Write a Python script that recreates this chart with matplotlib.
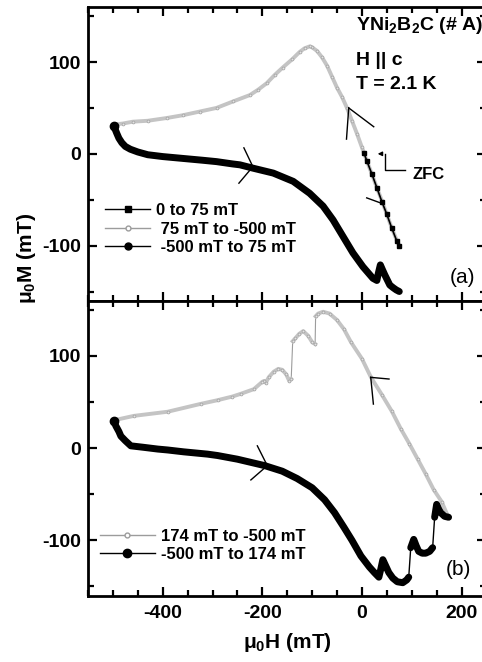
import numpy as np
import matplotlib
matplotlib.use("Agg")
import matplotlib.pyplot as plt
from matplotlib.lines import Line2D
from matplotlib.ticker import MultipleLocator

plt.rcParams['font.family'] = ['Liberation Sans', 'DejaVu Sans']
plt.rcParams['font.weight'] = 'bold'
plt.rcParams['axes.unicode_minus'] = False
plt.rcParams['mathtext.fontset'] = 'custom'
plt.rcParams['mathtext.bf'] = 'Liberation Sans:bold'
plt.rcParams['mathtext.rm'] = 'Liberation Sans:bold'
plt.rcParams['mathtext.default'] = 'bf'

# ---- panel (a) ----
zfc_H = [4, 10, 20, 30, 40, 50, 60, 70, 75]
zfc_M = [1, -8, -22, -37, -52, -66, -81, -95, -100]

down_a_H = [75, 72, 60, 50, 40, 30, 20, 10, 0, -10, -20, -30, -40, -50, -60, -70, -80,
            -90, -100, -105, -115, -125, -140, -159, -175, -191, -208, -225, -259,
            -292, -326, -360, -392, -430, -460, -480, -496, -500]
down_a_M = [-100, -97, -81, -66, -51, -37, -22, -8, 7, 22, 36, 50, 62, 72, 84, 96, 105,
            112, 116, 117, 115, 111, 103, 94, 86, 77, 70, 64, 57,
            50, 46, 42, 39, 36, 35, 33, 32, 30]

up_a_H = [-498, -495, -492, -488, -482, -475, -465, -450, -430, -400, -360, -320, -292,
          -260, -245, -219, -178, -138, -105, -78, -58, -38, -18, 2, 22, 30, 33, 37,
          41, 46, 56, 63, 69, 75]
up_a_M = [30, 26, 22, 17, 12, 8, 5, 2, -1, -3, -5, -7, -8.5,
          -11, -12, -15.6, -21, -30, -43, -57, -72, -90, -108, -123, -135.6, -138, -130, -121,
          -126, -132, -143, -146, -148.3, -150]

# ---- panel (b) ----
down_b_H = [172, 160, 144, 128, 112, 95, 78, 60, 40, 18, 0, -22, -36, -50, -65, -78,
            -88, -93, -94, -100, -108, -118, -126, -134, -139, -142, -146, -152, -160,
            -168, -177, -187, -193, -196, -200, -217, -243, -260, -290, -324, -390,
            -458, -500]
down_b_M = [-73, -58, -45, -28, -12, 5, 21, 40, 58, 77, 97, 115, 129, 139, 146, 148,
            146, 143, 113, 115, 122, 127, 124, 119, 116, 75, 73, 80, 85,
            86, 83, 77, 71, 73, 72, 64, 59, 56, 52, 48, 39.5,
            35, 30]

up_b_H = [-498, -494, -488, -484, -475, -464, -440, -410, -390, -358, -310, -290, -250,
          -195, -160, -130, -100, -75, -55, -36, -20, -2, 15, 25, 34, 38, 42, 48,
          54, 62, 71, 82, 90, 94, 98, 104, 109, 114, 121, 128, 136, 142, 146, 150,
          154, 158, 166, 174]
up_b_M = [29, 24, 18, 13, 8, 2.5, 1, -1, -2, -4, -6.5, -8, -12,
          -19, -25, -33, -43, -56, -70, -86, -100, -117, -129, -135, -140, -131, -121, -128,
          -135, -141, -145, -146, -143, -140, -108, -99, -106, -112, -114, -114, -112, -108, -75, -61,
          -66, -70, -74, -75]

# direction chevrons: (vertex, arm1, arm2)
chev_a = [((-219, -14), (-237, 6.5), (-247, -32)),
          ((-26.5, 50), (23.7, 29.5), (-31, 16)),
          ((37.8, -53.6), (9.6, -48), None)]
chev_b = [((-190, -19), (-210, 2.5), (-223, -34.5)),
          ((17.7, 76.8), (54.4, 75), (23, 47.8))]

GRAY_LINE = '#c4c4c4'
GRAY_EDGE = '#9c9c9c'


def split_jumps(h, m, thr=20):
    h = np.asarray(h, float)
    m = np.asarray(m, float)
    jumps = np.where(np.abs(np.diff(m)) > thr)[0] + 1
    return np.insert(h, jumps, np.nan), np.insert(m, jumps, np.nan)


def draw_black(ax, h, m):
    ax.plot(h, m, color='black', lw=1, zorder=3)
    hh, mm = split_jumps(h, m)
    ax.plot(hh, mm, color='black', lw=5, solid_capstyle='round',
            solid_joinstyle='round', zorder=3)
    ax.plot(h[:1], m[:1], ls='none', marker='o', ms=6, color='black', zorder=4)


def draw_gray(ax, h, m):
    ax.plot(h, m, color=GRAY_EDGE, lw=0.8, zorder=2)
    hh, mm = split_jumps(h, m)
    ax.plot(hh, mm, color=GRAY_LINE, lw=2.8, solid_joinstyle='round', zorder=2)
    ax.plot(h, m, ls='none', marker='o', ms=2, mfc='#e4e4e4', mec='#a8a8a8',
            mew=0.6, zorder=2)


def draw_chevrons(ax, chevs):
    for v, a1, a2 in chevs:
        for a in (a1, a2):
            if a is not None:
                ax.plot([a[0], v[0]], [a[1], v[1]], color='black', lw=1, zorder=5)


def style_axes(ax, labelbottom):
    ax.set_xlim(-550, 250)
    ax.set_ylim(-160, 160)
    ax.xaxis.set_major_locator(MultipleLocator(200))
    ax.xaxis.set_minor_locator(MultipleLocator(50))
    ax.yaxis.set_major_locator(MultipleLocator(100))
    ax.yaxis.set_minor_locator(MultipleLocator(50))
    ax.tick_params(which='both', direction='in', top=True, right=True, width=1.6,
                   labelsize=14, labelbottom=labelbottom)
    ax.tick_params(which='major', length=6.5)
    ax.tick_params(which='minor', length=4)
    ax.tick_params(axis='x', pad=7)
    ax.tick_params(axis='y', pad=5)
    for lbl in ax.get_xticklabels() + ax.get_yticklabels():
        lbl.set_fontweight('bold')
    for s in ax.spines.values():
        s.set_linewidth(2)


fig = plt.figure(figsize=(4.82, 6.62), dpi=100)
ax1 = fig.add_axes([0.1826, 0.5458, 0.8266, 0.4437])
ax2 = fig.add_axes([0.1826, 0.1003, 0.8266, 0.4455])

# panel (a)
draw_gray(ax1, down_a_H, down_a_M)
ax1.plot(zfc_H, zfc_M, color='black', lw=1.2, marker='s', ms=3, zorder=4)
draw_black(ax1, up_a_H, up_a_M)
draw_chevrons(ax1, chev_a)
style_axes(ax1, False)

h_a = [Line2D([], [], color='black', lw=1, marker='s', ms=4),
       Line2D([], [], color=GRAY_EDGE, lw=1, marker='o', ms=3.5, mfc='white', mec=GRAY_EDGE),
       Line2D([], [], color='black', lw=1, marker='o', ms=5)]
ax1.legend(h_a, ['0 to 75 mT', ' 75 mT to -500 mT', ' -500 mT to 75 mT'],
           loc='center left', bbox_to_anchor=(0.0427, 0.244), frameon=False,
           fontsize=12, handlelength=2.7, handletextpad=0.35, labelspacing=0.22,
           borderpad=0, borderaxespad=0)

# ZFC pointer
ax1.plot([86, 46, 46], [-18, -18, 0], color='black', lw=1)
ax1.annotate('', xy=(26, 0), xytext=(46, 0),
             arrowprops=dict(arrowstyle='-|>', color='black', lw=1, mutation_scale=6))
ax1.text(102, -23, 'ZFC', fontsize=12, fontweight='bold', va='center', ha='left')
ax1.text(0.94, 0.08, '(a)', transform=ax1.transAxes, fontsize=15,
         fontweight='normal', ha='center', va='center')

# panel (b)
draw_gray(ax2, down_b_H, down_b_M)
draw_black(ax2, up_b_H, up_b_M)
draw_chevrons(ax2, chev_b)
style_axes(ax2, True)

h_b = [Line2D([], [], color=GRAY_EDGE, lw=1, marker='o', ms=3.5, mfc='white', mec=GRAY_EDGE),
       Line2D([], [], color='black', lw=1, marker='o', ms=6)]
ax2.legend(h_b, ['174 mT to -500 mT', '-500 mT to 174 mT'],
           loc='center left', bbox_to_anchor=(0.030, 0.170), frameon=False,
           fontsize=12, handlelength=3.3, handletextpad=0.35, labelspacing=0.22,
           borderpad=0, borderaxespad=0)
ax2.text(0.93, 0.09, '(b)', transform=ax2.transAxes, fontsize=15,
         fontweight='normal', ha='center', va='center')

# sample info text
fig.text(356 / 482, 1 - 30 / 662, r'YNi$_2$B$_2$C (# A)', fontsize=14,
         fontweight='bold', va='baseline', ha='left')
fig.text(356 / 482, 1 - 65 / 662, 'H || c', fontsize=14, fontweight='bold',
         va='baseline', ha='left')
fig.text(356 / 482, 1 - 89 / 662, 'T = 2.1 K', fontsize=14, fontweight='bold',
         va='baseline', ha='left')

fig.text(27 / 482, 1 - 258 / 662, r'μ$_0$M (mT)', rotation=90, fontsize=15,
         fontweight='bold', va='center', ha='center')
fig.text(287 / 482, 1 - 643 / 662, r'μ$_0$H (mT)', fontsize=15,
         fontweight='bold', va='center', ha='center')

fig.savefig('out.png', dpi=100)
